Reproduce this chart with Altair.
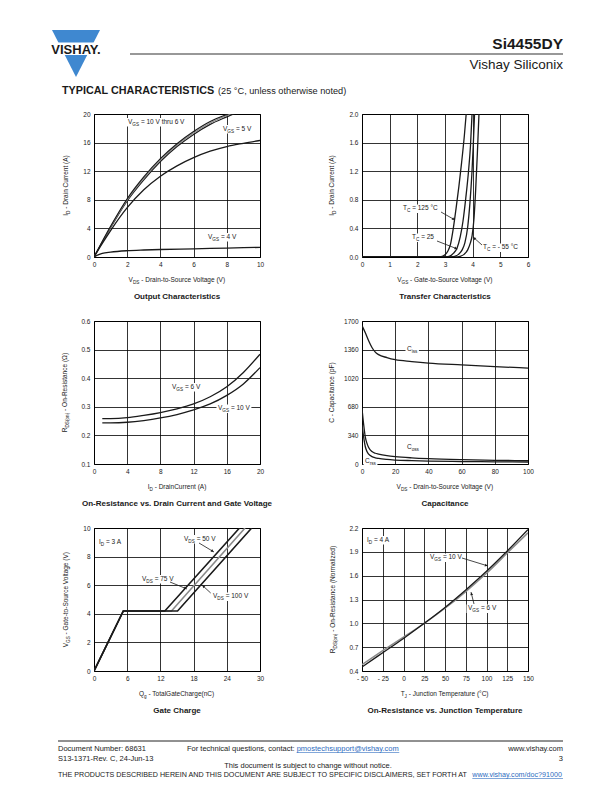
import math
import re
import altair as alt
import pandas as pd

FONT = "Liberation Sans"
INK = "#1a1a1a"
GRAY = "#8a8a8a"
BLUE = "#3f88d0"
LINK = "#2d6bc0"

# ---------------- data ----------------
# Output characteristics: I_D (A) vs V_DS (V)
OC_X6A = [0, 1, 2, 3, 4, 5, 6, 7, 8, 8.5]
OC_Y6A = [0, 4.3, 8.15, 11.2, 13.75, 15.85, 17.55, 18.95, 19.95, 20.4]
OC_X6B = [0, 1, 2, 3, 4, 5, 6, 7, 8, 8.6]
OC_Y6B = [0, 4.2, 8.0, 11.0, 13.55, 15.65, 17.35, 18.75, 19.8, 20.4]
OC_X6C = [0, 1, 2, 3, 4, 5, 6, 7, 8, 8.8]
OC_Y6C = [0, 4.1, 7.85, 10.8, 13.35, 15.45, 17.15, 18.55, 19.6, 20.4]
OC_X5 = [0, 0.5, 1, 2, 3, 4, 5, 6, 7, 8, 9, 10]
OC_Y5 = [0, 1.9, 3.7, 6.9, 9.4, 11.3, 12.75, 13.9, 14.8, 15.45, 15.9, 16.3]
OC_X4 = [0, 0.25, 0.5, 1, 2, 3, 4, 6, 8, 10]
OC_Y4 = [0, 0.3, 0.5, 0.68, 0.88, 0.98, 1.05, 1.15, 1.25, 1.35]

# Transfer characteristics: I_D (A) vs V_GS (V)
TR_X125 = [0, 2.7, 2.9, 3.0, 3.1, 3.2, 3.3, 3.4, 3.5, 3.6, 3.7, 3.77]
TR_Y125 = [0, 0, 0.01, 0.03, 0.08, 0.18, 0.40, 0.68, 0.98, 1.32, 1.70, 2.02]
TR_X25 = [0, 2.95, 3.15, 3.3, 3.44, 3.55, 3.65, 3.75, 3.85, 3.92, 3.98]
TR_Y25 = [0, 0, 0.01, 0.05, 0.13, 0.28, 0.5, 0.82, 1.2, 1.55, 2.02]
TR_XMID = [0, 3.15, 3.35, 3.5, 3.62, 3.72, 3.82, 3.9, 3.97, 4.02, 4.07]
TR_YMID = [0, 0, 0.01, 0.04, 0.1, 0.2, 0.42, 0.75, 1.15, 1.55, 2.02]
TR_XM55 = [0, 3.35, 3.55, 3.7, 3.82, 3.92, 3.98, 4.05, 4.11, 4.17, 4.23]
TR_YM55 = [0, 0, 0.01, 0.04, 0.1, 0.2, 0.3, 0.55, 0.95, 1.45, 2.02]

# On-resistance vs drain current
RD_X = [1, 2, 4, 6, 8, 10, 12, 14, 16, 18, 20]
RD_6V = [0.259, 0.259, 0.262, 0.27, 0.28, 0.293, 0.31, 0.335, 0.37, 0.42, 0.484]
RD_10V = [0.244, 0.244, 0.246, 0.252, 0.261, 0.273, 0.289, 0.31, 0.34, 0.38, 0.437]

# Capacitance (pF) vs V_DS (V)
CISS_X = [0, 2, 4, 6, 8, 10, 15, 20, 30, 40, 60, 80, 100]
CISS_Y = [1645, 1560, 1465, 1385, 1330, 1300, 1265, 1240, 1218, 1200, 1178, 1158, 1140]
COSS_X = [0, 1, 2, 3, 4, 6, 8, 10, 15, 20, 30, 40, 60, 80, 100]
COSS_Y = [660, 470, 320, 245, 197, 148, 128, 118, 100, 88, 73, 63, 51, 44, 39]
CRSS_X = [0, 1, 2, 3, 4, 6, 8, 10, 15, 20, 30, 40, 60, 80, 100]
CRSS_Y = [470, 320, 205, 148, 118, 88, 74, 66, 54, 47, 40, 35, 29, 26, 24]

# Gate charge: V_GS (V) vs Q_g (nC)
GC_X50 = [0, 5.3, 12.8, 26.3]
GC_X75 = [0, 5.3, 14.0, 27.3]
GC_X100 = [0, 5.3, 15.1, 28.5]
GC_Y = [0, 4.2, 4.2, 10]

# Normalized on-resistance vs junction temperature
TJ_X = [-50, -25, 0, 25, 50, 75, 100, 125, 150]
TJ_10V = [0.45, 0.63, 0.81, 1.0, 1.2, 1.42, 1.655, 1.91, 2.18]
TJ_6V = [0.48, 0.655, 0.825, 1.0, 1.19, 1.40, 1.63, 1.885, 2.14]

# ---------------- layout ----------------
PW, PH = 166, 143
GAP_X = 102
GAP_Y = 64
HEAD_H = 42
COL_X = [94, 94 + PW + GAP_X]
ROW_Y = [114, 114 + PH + GAP_Y, 114 + 2 * (PH + GAP_Y)]
HEAD_Y = ROW_Y[0] - GAP_Y - HEAD_H     # = 8, page y of the header cells
FOOT_Y = ROW_Y[2] + PH + GAP_Y         # page y of the footer cells

HW = {' ': 278, '(': 333, ')': 333, ',': 278, '-': 333, '.': 278, '/': 278, ':': 278,
      '=': 584, '?': 556, '@': 1015, '°': 400, 'Ω': 768,
      'A': 667, 'B': 667, 'C': 722, 'D': 722, 'E': 667, 'F': 611, 'G': 778, 'H': 722,
      'I': 278, 'J': 500, 'K': 667, 'L': 556, 'M': 833, 'N': 722, 'O': 778, 'P': 667,
      'Q': 778, 'R': 722, 'S': 667, 'T': 611, 'U': 722, 'V': 667, 'W': 944, 'X': 667,
      'Y': 667, 'Z': 611, 'a': 556, 'b': 556, 'c': 500, 'd': 556, 'e': 556, 'f': 278,
      'g': 556, 'h': 556, 'i': 222, 'j': 222, 'k': 500, 'l': 222, 'm': 833, 'n': 556,
      'o': 556, 'p': 556, 'q': 556, 'r': 333, 's': 500, 't': 278, 'u': 556, 'v': 500,
      'w': 722, 'x': 500, 'y': 500, 'z': 500}
for d in "0123456789":
    HW[d] = 556
SUB = 0.72


def tw(s, size):
    return sum(HW.get(c, 556) for c in s) * size / 1000.0


def parse(s):
    out, pos = [], 0
    for m in re.finditer(r"_\{([^}]*)\}", s):
        if m.start() > pos:
            out.append((s[pos:m.start()], False))
        out.append((m.group(1), True))
        pos = m.end()
    if pos < len(s):
        out.append((s[pos:], False))
    return out


def rich(s, x, y, size=6.5, angle=0, align="left"):
    segs = parse(s)
    ws = [tw(t, size * SUB if sub else size) for t, sub in segs]
    total = sum(ws)
    off = {"left": 0, "center": -total / 2, "right": -total}[align]
    rows, cum = [], off
    for (t, sub), w in zip(segs, ws):
        fs = size * SUB if sub else size
        sh = size * 0.32 if sub else 0
        lead = len(t) - len(t.lstrip())
        c = cum + tw(t[:lead], fs)
        txt = t.strip()
        if txt:
            if angle == 0:
                rows.append(dict(px=x + c, py=y + sh, t=txt, size=fs, angle=0))
            else:
                rows.append(dict(px=x + sh, py=y - c, t=txt, size=fs, angle=270))
        cum += w
    return rows, (x + off, x + off + total)


AX = dict(grid=True, gridColor="black", gridWidth=0.8, gridOpacity=1, domain=False,
          ticks=False, labelPadding=4, labelFontSize=6.5, labelFont=FONT, labelColor=INK,
          labelFlush=False, labelOverlap=False, title=None)


def panel(col, row, xdom, ydom, xticks, yticks, xfmt, yfmt, series, notes, arrows,
          xtitle, ytitle, caption, ydx=-26, interp="monotone", xexpr=None):
    left, top = COL_X[col], ROW_Y[row]

    def dx(px):
        return xdom[0] + (px - left) / PW * (xdom[1] - xdom[0])

    def dy(py):
        return ydom[1] - (py - top) / PH * (ydom[1] - ydom[0])

    xs = alt.Scale(domain=xdom, nice=False, zero=False)
    ys = alt.Scale(domain=ydom, nice=False, zero=False)
    xkw = dict(AX)
    if xexpr:
        xkw["labelExpr"] = xexpr
    xa = alt.Axis(values=xticks, format=xfmt, **xkw)
    ya = alt.Axis(values=yticks, format=yfmt, **AX)
    X = alt.X("x:Q", scale=xs, axis=xa)
    Y = alt.Y("y:Q", scale=ys, axis=ya)

    layers = []
    text_rows, box_rows = [], []
    for s, px, py in notes:
        r, (x0, x1) = rich(s, px, py)
        text_rows += r
        box_rows.append(dict(x=dx(x0 - 1.5), x2=dx(x1 + 1.5), y=dy(py - 5.5), y2=dy(py + 3)))
    if box_rows:
        layers.append(alt.Chart(pd.DataFrame(box_rows)).mark_rect(color="white").encode(
            x=X, x2="x2:Q", y=Y, y2="y2:Q"))
    for xv, yv, color, width in series:
        df = pd.DataFrame({"x": xv, "y": yv, "i": list(range(len(xv)))})
        layers.append(alt.Chart(df).mark_line(clip=True, interpolate=interp, color=color,
                                              strokeWidth=width).encode(x=X, y=Y, order="i:Q"))
    if arrows:
        ar = [dict(x=dx(a[0]), y=dy(a[1]), x2=dx(a[2]), y2=dy(a[3])) for a in arrows]
        layers.append(alt.Chart(pd.DataFrame(ar)).mark_rule(color=INK, strokeWidth=0.8).encode(
            x=X, x2="x2:Q", y=Y, y2="y2:Q"))
        hd = []
        for a in arrows:
            ddx, ddy = a[2] - a[0], a[3] - a[1]
            L = math.hypot(ddx, ddy)
            ang = math.degrees(math.atan2(ddx, -ddy)) % 360
            hd.append(dict(x=dx(a[2] - 1.8 * ddx / L), y=dy(a[3] - 1.8 * ddy / L), a=ang))
        layers.append(alt.Chart(pd.DataFrame(hd)).mark_point(
            shape="triangle-up", filled=True, color=INK, size=9, opacity=1).encode(
            x=X, y=Y, angle=alt.Angle("a:Q", scale=None)))

    r, _ = rich(xtitle, left + PW / 2, top + PH + 25, align="center")
    text_rows += r
    r, _ = rich(ytitle, left + ydx, top + PH / 2, angle=270, align="center")
    text_rows += r
    tdf = pd.DataFrame([dict(x=dx(q["px"]), y=dy(q["py"]), t=q["t"], size=q["size"],
                             angle=q["angle"]) for q in text_rows])
    layers.append(alt.Chart(tdf).mark_text(align="left", baseline="alphabetic", font=FONT,
                                           color=INK).encode(
        x=X, y=Y, text="t:N", size=alt.Size("size:Q", scale=None),
        angle=alt.Angle("angle:Q", scale=None)))
    cdf = pd.DataFrame([dict(x=dx(left + PW / 2), y=dy(top + PH + 42), t=caption)])
    layers.append(alt.Chart(cdf).mark_text(align="center", baseline="alphabetic", font=FONT,
                                           fontWeight="bold", fontSize=8, color=INK).encode(
        x=X, y=Y, text="t:N"))
    return alt.layer(*layers).properties(
        width=PW, height=PH, view=alt.ViewBackground(stroke="black", strokeWidth=1))


p1 = panel(0, 0, [0, 10], [0, 20], [0, 2, 4, 6, 8, 10], [0, 4, 8, 12, 16, 20], "d", "d",
           [(OC_X6C, OC_Y6C, INK, 1.2), (OC_X6B, OC_Y6B, GRAY, 1.2), (OC_X6A, OC_Y6A, INK, 1.2),
            (OC_X5, OC_Y5, INK, 1.3), (OC_X4, OC_Y4, INK, 1.3)],
           [("V_{GS} = 10 V thru 6 V", 128, 123.5), ("V_{GS} = 5 V", 223, 130.5),
            ("V_{GS} = 4 V", 208, 238.5)], [],
           "V_{DS} - Drain-to-Source Voltage (V)", "I_{D} - Drain Current (A)",
           "Output Characteristics")

p2 = panel(1, 0, [0, 6], [0, 2], [0, 1, 2, 3, 4, 5, 6], [0, 0.4, 0.8, 1.2, 1.6, 2.0], "d", ".1f",
           [(TR_X125, TR_Y125, INK, 1.3), (TR_X25, TR_Y25, INK, 1.3),
            (TR_XMID, TR_YMID, INK, 1.3), (TR_XM55, TR_YM55, INK, 1.3)],
           [("T_{C} = 125 °C", 403, 210), ("T_{C} = 25", 412, 239), ("T_{C} = - 55 °C", 483, 249)],
           [(441, 212, 455, 220), (437, 241, 457.5, 249), (482, 245, 473, 237)],
           "V_{GS} - Gate-to-Source Voltage (V)", "I_{D} - Drain Current (A)",
           "Transfer Characteristics", ydx=-28)

p3 = panel(0, 1, [0, 20], [0.1, 0.6], [0, 4, 8, 12, 16, 20], [0.1, 0.2, 0.3, 0.4, 0.5, 0.6],
           "d", ".1f",
           [(RD_X, RD_6V, INK, 1.3), (RD_X, RD_10V, INK, 1.3)],
           [("V_{GS} = 6 V", 172, 388.5), ("V_{GS} = 10 V", 218, 410)], [],
           "I_{D} - DrainCurrent (A)", "R_{DS(on)} - On-Resistance (Ω)",
           "On-Resistance vs. Drain Current and Gate Voltage", ydx=-27)

p4 = panel(1, 1, [0, 100], [0, 1700], [0, 20, 40, 60, 80, 100], [0, 340, 680, 1020, 1360, 1700],
           "d", "d",
           [(CISS_X, CISS_Y, INK, 1.3), (COSS_X, COSS_Y, INK, 1.3), (CRSS_X, CRSS_Y, INK, 1.3)],
           [("C_{iss}", 407, 351), ("C_{oss}", 407, 449), ("C_{rss}", 365, 462.5)], [],
           "V_{DS} - Drain-to-Source Voltage (V)", "C - Capacitance (pF)", "Capacitance",
           ydx=-28)

p5 = panel(0, 2, [0, 30], [0, 10], [0, 6, 12, 18, 24, 30], [0, 2, 4, 6, 8, 10], "d", "d",
           [(GC_X75, GC_Y, GRAY, 1.6), (GC_X100, GC_Y, INK, 1.6), (GC_X50, GC_Y, INK, 1.6)],
           [("I_{D} = 3 A", 99, 544), ("V_{DS} = 50 V", 184, 540.5), ("V_{DS} = 75 V", 142, 580.5),
            ("V_{DS} = 100 V", 213, 598)],
           [(199, 543, 214, 552), (170, 582, 187, 589), (210.7, 593, 202, 585)],
           "Q_{g} - TotalGateCharge(nC)", "V_{GS} - Gate-to-Source Voltage (V)", "Gate Charge",
           interp="linear")

p6 = panel(1, 2, [-50, 150], [0.4, 2.2], [-50, -25, 0, 25, 50, 75, 100, 125, 150],
           [0.4, 0.7, 1.0, 1.3, 1.6, 1.9, 2.2], "d", ".1f",
           [(TJ_X, TJ_6V, GRAY, 1.5), (TJ_X, TJ_10V, INK, 1.3)],
           [("I_{D} = 4 A", 367, 541.5), ("V_{GS} = 10 V", 430, 559), ("V_{GS} = 6 V", 468, 610)],
           [(462, 558, 488, 566), (474, 604, 471, 592)],
           "T_{J} - Junction Temperature (°C)", "R_{DS(on)} - On-Resistance (Normalized)",
           "On-Resistance vs. Junction Temperature", ydx=-27,
           xexpr="datum.value < 0 ? '- ' + abs(datum.value) : datum.label")

# ---------------- header and footer (page pixel coordinates) ----------------
PXS = dict(scale=None, axis=None)


def text_chart(rows, ox, oy, align, bold=False):
    df = pd.DataFrame([dict(x=r[1] - ox, y=r[2] - oy, t=r[0], size=r[3],
                            c=r[4] if len(r) > 4 else INK) for r in rows])
    return alt.Chart(df).mark_text(align=align, baseline="alphabetic", font=FONT,
                                   fontWeight="bold" if bold else "normal").encode(
        x=alt.X("x:Q", **PXS), y=alt.Y("y:Q", **PXS), text="t:N",
        size=alt.Size("size:Q", scale=None), color=alt.Color("c:N", scale=None))


def rule_chart(rows, ox, oy, color, width):
    df = pd.DataFrame([dict(x=r[0] - ox, x2=r[1] - ox, y=r[2] - oy, y2=r[3] - oy)
                       for r in rows])
    return alt.Chart(df).mark_rule(color=color, strokeWidth=width).encode(
        x=alt.X("x:Q", **PXS), x2="x2:Q", y=alt.Y("y:Q", **PXS), y2="y2:Q")


def rect_chart(rows, ox, oy, color):
    df = pd.DataFrame([dict(x=r[0] - ox, x2=r[1] - ox, y=r[2] - oy, y2=r[3] - oy)
                       for r in rows])
    return alt.Chart(df).mark_rect(color=color).encode(
        x=alt.X("x:Q", **PXS), x2="x2:Q", y=alt.Y("y:Q", **PXS), y2="y2:Q")


LOGO_X = [52, 76, 100]
LOGO_TOP = [30, 30, 30]
LOGO_BOT = [30, 77, 30]
L0, R0 = COL_X
logo = alt.Chart(pd.DataFrame({"x": [v - L0 for v in LOGO_X],
                               "y": [v - HEAD_Y for v in LOGO_TOP],
                               "y2": [v - HEAD_Y for v in LOGO_BOT]})).mark_area(
    color=BLUE, interpolate="linear").encode(
    x=alt.X("x:Q", **PXS), y=alt.Y("y:Q", **PXS), y2="y2:Q")

head_left = alt.layer(
    rect_chart([(8, 9, 8, 9)], L0, HEAD_Y, "white"),
    logo,
    rect_chart([(46, 106, 42.5, 55)], L0, HEAD_Y, "white"),
    text_chart([("VISHAY.", 76, 53.5, 13)], L0, HEAD_Y, "center", bold=True),
    rule_chart([(130, 563, 54, 54)], L0, HEAD_Y, "#333333", 1.1),
    text_chart([("TYPICAL CHARACTERISTICS", 62, 93.5, 10.8)], L0, HEAD_Y, "left", bold=True),
    text_chart([("(25 °C, unless otherwise noted)", 218, 93.5, 9.2)], L0, HEAD_Y, "left"),
).properties(width=PW, height=HEAD_H)

head_right = alt.layer(
    text_chart([("Si4455DY", 563, 48.5, 15.5)], R0, HEAD_Y, "right", bold=True),
    text_chart([("Vishay Siliconix", 563, 68.5, 13.5)], R0, HEAD_Y, "right"),
).properties(width=PW, height=HEAD_H)

FS = 7.5
contact = "For technical questions, contact: "
mail = "pmostechsupport@vishay.com"
disc = "THE PRODUCTS DESCRIBED HEREIN AND THIS DOCUMENT ARE SUBJECT TO SPECIFIC DISCLAIMERS, SET FORTH AT "
disc_link = "www.vishay.com/doc?91000"
dfs = 505.0 / (tw(disc + disc_link, 1.0))
mail_x = 187 + tw(contact, FS)
link_x = 563 - tw(disc_link, dfs)

foot_left = alt.layer(
    rule_chart([(58, 563, 741, 741)], L0, FOOT_Y, "#222222", 1.0),
    text_chart([("Document Number: 68631", 58, 751, FS), ("S13-1371-Rev. C, 24-Jun-13", 58, 760.5, FS),
                (contact.strip(), 187, 751, FS), (mail, mail_x, 751, FS, LINK),
                (disc.strip(), 58, 777, dfs), (disc_link, link_x, 777, dfs, LINK)],
               L0, FOOT_Y, "left"),
    text_chart([("This document is subject to change without notice.", 308, 768, FS)],
               L0, FOOT_Y, "center"),
    rule_chart([(mail_x, mail_x + tw(mail, FS), 752.5, 752.5),
                (link_x, 563, 778.5, 778.5)], L0, FOOT_Y, LINK, 0.6),
).properties(width=PW, height=40)

foot_right = alt.layer(
    text_chart([("www.vishay.com", 563, 751, FS), ("3", 563, 760.5, FS)], R0, FOOT_Y, "right"),
).properties(width=PW, height=40)

chart = alt.concat(head_left, head_right, p1, p2, p3, p4, p5, p6, foot_left, foot_right,
                   columns=2, spacing={"row": GAP_Y, "column": GAP_X}, bounds="flush").properties(
    padding=0
).configure(font=FONT).configure_view(stroke=None)

chart.save("out.html", embed_options={"renderer": "svg", "actions": False})
